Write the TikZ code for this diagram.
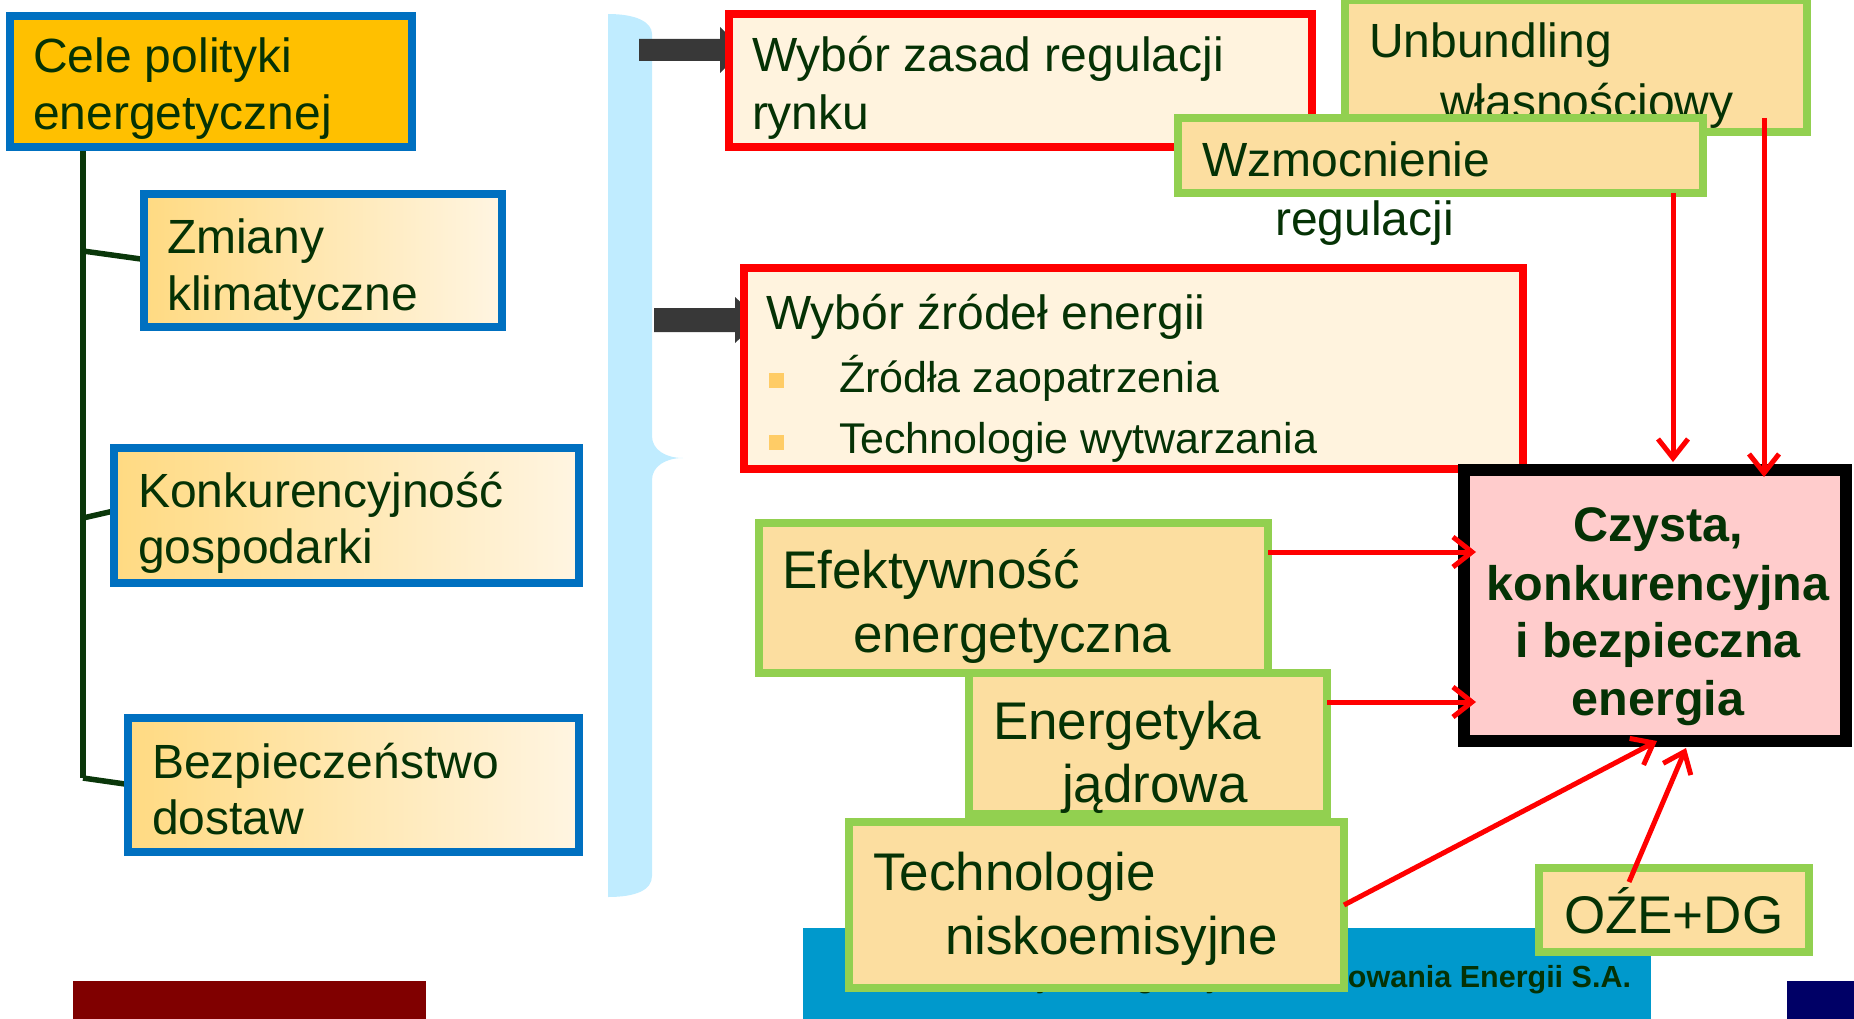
\documentclass[tikz,border=0pt]{standalone}
\usepackage{fontspec}
\setmainfont{Liberation Sans}
\usetikzlibrary{arrows.meta,fit}

\definecolor{txt}{RGB}{5,50,5}
\definecolor{gold}{RGB}{255,192,0}
\definecolor{boxblue}{RGB}{0,112,192}
\definecolor{gradL}{RGB}{255,218,130}
\definecolor{gradR}{RGB}{255,245,226}
\definecolor{cream}{RGB}{255,243,222}
\definecolor{lgreen}{RGB}{146,208,80}
\definecolor{peach}{RGB}{252,222,160}
\definecolor{pinkfill}{RGB}{255,204,204}
\definecolor{bracecol}{RGB}{192,236,255}
\definecolor{darkarrow}{RGB}{56,56,56}
\definecolor{stripblue}{RGB}{0,153,204}
\definecolor{maroonbar}{RGB}{128,0,0}
\definecolor{navybar}{RGB}{0,0,102}
\definecolor{bulletcol}{RGB}{255,204,102}
\definecolor{treeline}{RGB}{10,55,10}

\tikzset{
  every node/.style={inner sep=0pt, outer sep=0pt},
  goalbox/.style={draw=boxblue, line width=8pt, fill=gold},
  subgoal/.style={draw=boxblue, line width=8pt, left color=gradL, right color=gradR},
  choicebox/.style={draw=red, line width=8pt, fill=cream},
  measurebox/.style={draw=lgreen, line width=8pt, fill=peach},
  resultbox/.style={draw=black, line width=12pt, fill=pinkfill},
  tree/.style={draw=treeline, line width=5.5pt},
  redarrow/.style={draw=red, line width=5pt, -{Straight Barb[length=19pt,width=30pt]}},
  blockarrow/.style={fill=darkarrow},
  lbl/.style={anchor=base west, text=txt, font=\fontsize{48}{57}\selectfont},
  lblsmall/.style={anchor=base west, text=txt, font=\fontsize{43}{51}\selectfont},
  lblbig/.style={anchor=base west, text=txt, font=\fontsize{53}{63}\selectfont},
  lblbold/.style={anchor=base, text=txt, font=\fontsize{48.5}{58}\selectfont\bfseries},
}

\begin{document}
\begin{tikzpicture}[x=1pt, y=-1pt]
\useasboundingbox (0,0) rectangle (1854,1019);

% light blue brace
\fill[bracecol] (608,14) .. controls (636,14) and (652,22) .. (652,34)
  -- (652,436) .. controls (652,450) and (666,458) .. (683,458)
  .. controls (666,458) and (652,466) .. (652,480)
  -- (652,876) .. controls (652,890) and (636,897) .. (608,897) -- cycle;

% block arrows from the brace
\fill[blockarrow] (639,39) -- (720,39) -- (720,27) -- (744,50) -- (720,73) -- (720,61) -- (639,61) -- cycle;
\fill[blockarrow] (654,308) -- (735,308) -- (735,297) -- (760,320) -- (735,343) -- (735,332) -- (654,332) -- cycle;

% goal tree: connectors first, boxes on top
\coordinate (j1) at (83,251);
\coordinate (j2) at (83,518);
\coordinate (j3) at (83,778);
\coordinate (e1) at (148,260);
\coordinate (e2) at (118,510);
\coordinate (e3) at (132,785);
\draw[tree] (83,147) -- (j3);
\draw[tree] (j1) -- (e1);
\draw[tree] (j2) -- (e2);
\draw[tree] (j3) -- (e3);

\node[goalbox, fit={(10,16) (412,147)}] (cele) {};
\node[lbl] (cele1) at (33,73) {Cele polityki};
\node[lbl] (cele2) at (33,130) {energetycznej};

\node[subgoal, fit={(144,194) (502,327)}] (zmi) {};
\node[subgoal, fit={(114,448) (579,583)}] (kon) {};
\node[subgoal, fit={(128,718) (579,852)}] (bez) {};
\node[lbl] (zmi1) at (167,253) {Zmiany};
\node[lbl] (zmi2) at (167,310) {klimatyczne};
\node[lbl] (kon1) at (138,507) {Konkurencyjność};
\node[lbl] (kon2) at (138,563) {gospodarki};
\node[lbl] (bez1) at (152,778) {Bezpieczeństwo};
\node[lbl] (bez2) at (152,834) {dostaw};

% market regulation
\node[choicebox, fit={(729,14) (1312,147)}] (reg) {};
\node[lbl] (reg1) at (752,72) {Wybór zasad regulacji};
\node[lbl] (reg2) at (752,130) {rynku};

\node[measurebox, fit={(1345,0) (1807,132)}] (unb) {};
\node[lbl] (unb1) at (1369,58) {Unbundling};
\node[lbl] (unb2) at (1440,119) {własnościowy};

\node[measurebox, fit={(1178,118) (1703,193)}] (wzm) {};
\node[lbl] (wzm1) at (1202,177) {Wzmocnienie};
\node[lbl] (wzm2) at (1275,235) {regulacji};

% energy sources
\node[choicebox, fit={(744,268) (1523,469)}] (zrod) {};
\node[lbl] (zrod1) at (766,329) {Wybór źródeł energii};
\fill[bulletcol] (769,373) rectangle (784,388);
\fill[bulletcol] (769,435) rectangle (784,450);
\node[lblsmall] (zrod2) at (839,392) {Źródła zaopatrzenia};
\node[lblsmall] (zrod3) at (839,453) {Technologie wytwarzania};

% footer strip
\fill[stripblue] (803,928) rectangle (1651,1019);
\node[anchor=base east, text=txt, font=\fontsize{30.5}{36}\selectfont\bfseries] (footer) at (1631,987) {Krajowa Agencja Poszanowania Energii S.A.};

% measures
\node[measurebox, fit={(759,523) (1268,673)}] (efe) {};
\node[lblbig] (efe1) at (782,588) {Efektywność};
\node[lblbig] (efe2) at (853,652) {energetyczna};
\node[measurebox, fit={(969,673) (1327,814)}] (jad) {};
\node[lblbig] (jad1) at (993,739) {Energetyka};
\node[lblbig] (jad2) at (1062,802) {jądrowa};
\node[measurebox, fit={(849,822) (1344,988)}] (nis) {};
\node[lblbig] (nis1) at (873,890) {Technologie};
\node[lblbig] (nis2) at (945,954) {niskoemisyjne};
\node[measurebox, fit={(1539,868) (1809,952)}] (oze) {};
\node[lblbig] (oze1) at (1564,933) {OŹE+DG};

% result
\node[resultbox, fit={(1464,470) (1846,741)}] (cel) {};
\node[lblbold] (cel1) at (1658,541) {Czysta,};
\node[lblbold] (cel2) at (1658,600) {konkurencyjna};
\node[lblbold] (cel3) at (1658,657) {i bezpieczna};
\node[lblbold] (cel4) at (1658,715) {energia};

% influences
\draw[redarrow] (wzm.south -| 1673,0) -- ([yshift=8pt]cel.north -| 1673,0);
\draw[redarrow] ([yshift=14pt]unb.south -| 1764,0) -- ([yshift=-7pt]cel.north -| 1764,0);
\draw[redarrow] (efe.east |- 0,552) -- ([xshift=12pt]cel.west |- 0,552);
\draw[redarrow] (jad.east |- 0,702) -- ([xshift=12pt]cel.west |- 0,702);
\draw[redarrow] (nis.east |- 0,905) -- (cel.south -| 1657,0);
\draw[redarrow] ([yshift=-14pt]oze.north -| 1629,0) -- ([yshift=-7pt]cel.south -| 1686,0);

% corner bars
\fill[maroonbar] (73,981) rectangle (426,1019);
\fill[navybar] (1787,981) rectangle (1854,1019);
\end{tikzpicture}
\end{document}
